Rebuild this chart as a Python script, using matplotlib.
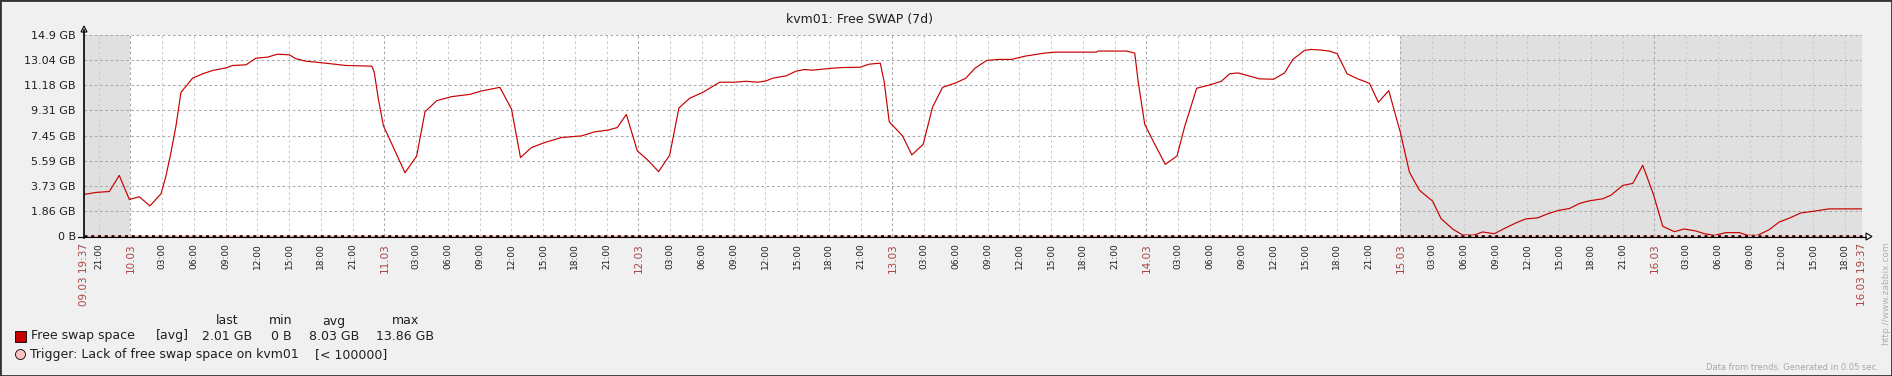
import matplotlib
matplotlib.use('Agg')

import numpy as np
import matplotlib.pyplot as plt
from matplotlib.patches import Rectangle, Polygon, Circle
from matplotlib.lines import Line2D

W, H = 1892, 376

# time in hours since 09.03 00:00, free swap in GB
hours = [19.617, 20.75, 22.01, 22.95, 23.90, 24.84, 25.85, 26.89, 27.36, 27.83,
         28.31, 28.78, 29.88, 30.82, 31.77, 33.03, 33.66, 34.92, 35.86, 36.96,
         37.91, 39.01, 39.64, 40.58, 42.47, 44.36, 46.82, 47.04, 47.43, 47.91,
         48.38, 49.01, 49.95, 51.05, 51.84, 52.94, 54.35, 56.08, 57.18, 58.91,
         60.01, 60.86, 61.90, 63.16, 64.73, 66.62, 67.87, 69.13, 70.01, 70.86,
         71.90, 72.91, 73.91, 74.95, 75.83, 76.84, 78.09, 79.67, 81.08, 82.18,
         83.28, 84.07, 84.70, 85.96, 86.90, 87.69, 88.47, 89.42, 90.36, 91.30,
         92.94, 93.82, 94.86, 95.23, 95.70, 96.96, 97.84, 98.91, 99.79, 100.74,
         101.99, 102.94, 103.81, 104.91, 106.01, 107.26, 108.52, 110.41, 111.35, 115.28,
         115.44, 118.11, 118.90, 119.21, 119.84, 120.79, 121.79, 122.89, 123.62, 124.75,
         125.98, 127.08, 127.86, 128.65, 129.59, 130.69, 132.02, 133.06, 133.84, 134.94,
         135.57, 136.52, 137.30, 138.03, 138.97, 139.97, 141.08, 141.92, 142.90, 144.00,
         144.85, 145.79, 147.05, 147.84, 148.94, 149.88, 150.98, 151.77, 152.87, 153.81,
         154.91, 155.86, 156.96, 157.90, 158.90, 159.98, 160.92, 161.87, 163.13, 163.91,
         165.01, 165.96, 166.90, 167.91, 168.79, 169.89, 170.83, 171.93, 172.72, 173.66,
         174.76, 176.02, 176.81, 177.75, 178.85, 179.80, 180.74, 181.84, 183.09, 184.51,
         187.617]
free_gb = [3.08, 3.23, 3.30, 4.49, 2.71, 2.91, 2.23, 3.13, 4.44, 6.18,
           8.17, 10.65, 11.70, 12.02, 12.27, 12.46, 12.64, 12.69, 13.18, 13.26,
           13.48, 13.43, 13.14, 12.96, 12.81, 12.64, 12.59, 12.14, 10.16, 8.17,
           7.37, 6.31, 4.69, 5.93, 9.21, 10.03, 10.33, 10.50, 10.75, 11.02,
           9.41, 5.81, 6.56, 6.93, 7.30, 7.42, 7.72, 7.85, 8.04, 9.01,
           6.31, 5.61, 4.77, 5.98, 9.49, 10.21, 10.65, 11.40, 11.40, 11.47,
           11.40, 11.50, 11.70, 11.87, 12.22, 12.34, 12.29, 12.37, 12.44, 12.49,
           12.51, 12.74, 12.81, 11.40, 8.47, 7.42, 6.01, 6.80, 9.54, 11.02,
           11.35, 11.70, 12.44, 13.01, 13.09, 13.09, 13.33, 13.56, 13.63, 13.63,
           13.71, 13.71, 13.56, 11.52, 8.29, 6.80, 5.31, 5.93, 8.12, 10.95,
           11.20, 11.47, 12.02, 12.09, 11.89, 11.65, 11.62, 12.09, 13.09, 13.76,
           13.83, 13.78, 13.71, 13.51, 12.02, 11.65, 11.32, 9.91, 10.78, 7.67,
           4.74, 3.40, 2.58, 1.29, 0.52, 0.07, 0.07, 0.30, 0.17, 0.55,
           0.97, 1.27, 1.34, 1.64, 1.89, 2.04, 2.41, 2.61, 2.76, 3.03,
           3.75, 3.90, 5.24, 3.08, 0.72, 0.32, 0.52, 0.37, 0.17, 0.05,
           0.25, 0.25, 0.05, 0.05, 0.47, 1.04, 1.32, 1.71, 1.84, 2.01,
           2.01]

start_h, end_h = 19.617, 187.617
nonwork = [(19.617, 24.0), (144.0, 187.617)]
ytick_vals = [0, 1.8625, 3.725, 5.5875, 7.45, 9.3125, 11.175, 13.0375, 14.9]
ytick_labels = ['0 B', '1.86 GB', '3.73 GB', '5.59 GB', '7.45 GB',
                '9.31 GB', '11.18 GB', '13.04 GB', '14.9 GB']
day_labels = ['10.03', '11.03', '12.03', '13.03', '14.03', '15.03', '16.03']
start_label, end_label = '09.03 19:37', '16.03 19:37'
stat_names = ['last', 'min', 'avg', 'max']
stat_values = ['2.01 GB', '0 B', '8.03 GB', '13.86 GB']

RED = '#c80000'
HL = '#aa4444'
TXT = '#202020'
LEG_FS = 9


def fx(px):
    return px / W


def fy(py):
    return 1 - py / H


fig = plt.figure(figsize=(W / 100, H / 100), dpi=100, facecolor='#f0f0f0')
fig.add_artist(Rectangle((0, 0), 1, 1, transform=fig.transFigure, fill=False,
                         ec='#333333', lw=2))

ax = fig.add_axes([fx(84), 140 / H, 1778 / W, 201 / H])
ax.set_facecolor('white')
ax.set_xlim(start_h, end_h)
ax.set_ylim(0, 14.9)
for a, b in nonwork:
    ax.axvspan(a, b, color='#e0e0e0', lw=0, zorder=0)

dash = (0, (2.5, 2.5))
for v in ytick_vals[1:]:
    ax.axhline(v, color='#a8a8a8', lw=0.75, ls=dash, zorder=1)
for t in range(21, 187, 3):
    c = '#a8a8a8' if t % 24 == 0 else '#cccccc'
    ax.axvline(t, color=c, lw=0.75, ls=dash, zorder=1)
ax.axvline(end_h, color='#cccccc', lw=0.75, ls=dash, zorder=1)

ax.plot(hours, free_gb, color=RED, lw=0.85, zorder=3)

# trigger line along zero
ax.axhline(0, color='#ffb8b8', lw=1.8, zorder=4, clip_on=False)
ax.axhline(0, color='black', lw=1.8, ls=(0, (1.2, 1.5)), zorder=5, clip_on=False)

for s in ax.spines.values():
    s.set_visible(False)
ax.set_xticks([])
ax.set_yticks(ytick_vals)
ax.set_yticklabels(ytick_labels, fontsize=8, color=TXT)
ax.tick_params(axis='y', length=0, pad=6)

# axes lines and arrows
fig.add_artist(Line2D([fx(84), fx(84)], [fy(238), fy(30)], color='black', lw=1.2))
fig.add_artist(Line2D([fx(78), fx(1866)], [fy(236.5), fy(236.5)], color='black', lw=0.8))
fig.add_artist(Polygon([(fx(81), fy(32)), (fx(87), fy(32)), (fx(84), fy(26))],
                       closed=True, fc='white', ec='black', lw=0.8))
fig.add_artist(Polygon([(fx(1866), fy(233)), (fx(1866), fy(240)), (fx(1872), fy(236.5))],
                       closed=True, fc='white', ec='black', lw=0.8))


# time labels
def tlabel(t, s, color, size):
    ax.annotate(s, xy=(t, 0), xycoords=('data', 'axes fraction'),
                xytext=(0, -5), textcoords='offset points', rotation=90,
                ha='center', va='top', fontsize=size, color=color)


tlabel(start_h, start_label, HL, 7.5)
tlabel(end_h, end_label, HL, 7.5)
for t in range(21, 187, 3):
    if t % 24 == 0:
        tlabel(t, day_labels[t // 24 - 1], HL, 7.5)
    else:
        tlabel(t, '%02d:00' % (t % 24), TXT, 6.5)

# title
fig.text(fx(859), fy(19), 'kvm01: Free SWAP (7d)', ha='center', va='center',
         fontsize=9, color=TXT)

# legend
stat_x = [227, 281, 334, 405]
for x, n in zip(stat_x, stat_names):
    fig.text(fx(x), fy(321), n, ha='center', va='center', fontsize=LEG_FS, color=TXT)
for x, v in zip(stat_x, stat_values):
    fig.text(fx(x), fy(336), v, ha='center', va='center', fontsize=LEG_FS, color=TXT)
fig.add_artist(Rectangle((fx(15), fy(342)), 11 / W, 11 / H, transform=fig.transFigure,
                         fc=RED, ec='black', lw=0.6))
fig.text(fx(31), fy(336), 'Free swap space', ha='left', va='center', fontsize=LEG_FS, color=TXT)
fig.text(fx(156), fy(336), '[avg]', ha='left', va='center', fontsize=LEG_FS, color=TXT)
ax_leg = fig.add_axes([0, 0, 1, 1], facecolor='none')
ax_leg.set_xlim(0, W)
ax_leg.set_ylim(H, 0)
ax_leg.axis('off')
ax_leg.add_patch(Circle((20.5, 354.5), 5, fc='#ffc0c0', ec='black', lw=0.6))
fig.text(fx(30), fy(354.5), 'Trigger: Lack of free swap space on kvm01', ha='left',
         va='center', fontsize=LEG_FS, color=TXT)
fig.text(fx(315), fy(354.5), '[< 100000]', ha='left', va='center', fontsize=LEG_FS, color=TXT)

# footer
fig.text(fx(1879), fy(367), 'Data from trends. Generated in 0.05 sec.', ha='right',
         va='center', fontsize=6, color='#a8a8a8')
fig.text(fx(1886), fy(241), 'http://www.zabbix.com', ha='center', va='top',
         rotation=90, fontsize=6.5, color='#b0b0b0')

plt.savefig('out.png', dpi=100, facecolor=fig.get_facecolor())
plt.close(fig)
